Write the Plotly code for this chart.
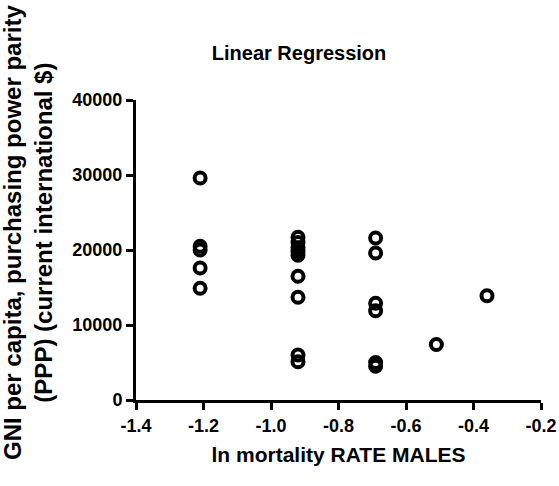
import plotly.graph_objects as go

# Data
x_vals = [-1.21, -1.21, -1.21, -1.21, -1.21,
          -0.92, -0.92, -0.92, -0.92, -0.92, -0.92, -0.92, -0.92, -0.92,
          -0.69, -0.69, -0.69, -0.69, -0.69, -0.69,
          -0.51, -0.36]
y_vals = [29600, 20500, 20000, 17600, 14900,
          21700, 21000, 20300, 19800, 19300, 16500, 13700, 6000, 5100,
          21600, 19600, 12900, 11900, 5000, 4500,
          7400, 13900]

x_ticks = [-1.4, -1.2, -1.0, -0.8, -0.6, -0.4, -0.2]
x_tick_text = ["-1.4", "-1.2", "-1.0", "-0.8", "-0.6", "-0.4", "-0.2"]
y_ticks = [0, 10000, 20000, 30000, 40000]

title_text = "Linear Regression"
x_title = "ln mortality RATE MALES"
y_title = "GNI per capita, purchasing power parity<br>(PPP) (current international $)"

FONT = "Liberation Sans, Arial, sans-serif"

fig = go.Figure()
fig.add_trace(go.Scatter(
    x=x_vals, y=y_vals, mode="markers",
    marker=dict(symbol="circle-open", size=11, color="black", line=dict(width=4, color="black")),
    showlegend=False, cliponaxis=False,
))

fig.update_layout(
    width=559, height=486,
    margin=dict(l=136, r=18, t=100, b=86),
    paper_bgcolor="white", plot_bgcolor="white",
    font=dict(family=FONT, color="black"),
    title=dict(text="<b>" + title_text + "</b>", x=0.535, xanchor="center", y=0.89, yanchor="middle",
               font=dict(size=20, family=FONT, color="black")),
    xaxis=dict(range=[-1.4, -0.2], tickvals=x_ticks, ticktext=["<b>%s</b>" % t for t in x_tick_text],
               showline=True, linecolor="black", linewidth=3, ticks="outside", ticklen=7, tickwidth=3,
               tickcolor="black", showgrid=False, zeroline=False, automargin=False,
               ticklabeloverflow="allow",
               tickfont=dict(size=18, family=FONT, color="black"),
               title=dict(text="<b>" + x_title + "</b>", font=dict(size=21, family=FONT, color="black"), standoff=13)),
    yaxis=dict(range=[0, 40000], tickvals=y_ticks, ticktext=["<b>%d</b>" % v for v in y_ticks],
               showline=True, linecolor="black", linewidth=3, ticks="outside", ticklen=7, tickwidth=3,
               tickcolor="black", showgrid=False, zeroline=False, automargin=False,
               tickfont=dict(size=18, family=FONT, color="black")),
)

fig.add_annotation(
    text="<b>" + y_title + "</b>", xref="paper", yref="paper",
    x=-0.2667, y=0.56, xanchor="center", yanchor="middle", textangle=-90, showarrow=False,
    font=dict(size=24, family=FONT, color="black"),
)

fig.write_html("out.html")
